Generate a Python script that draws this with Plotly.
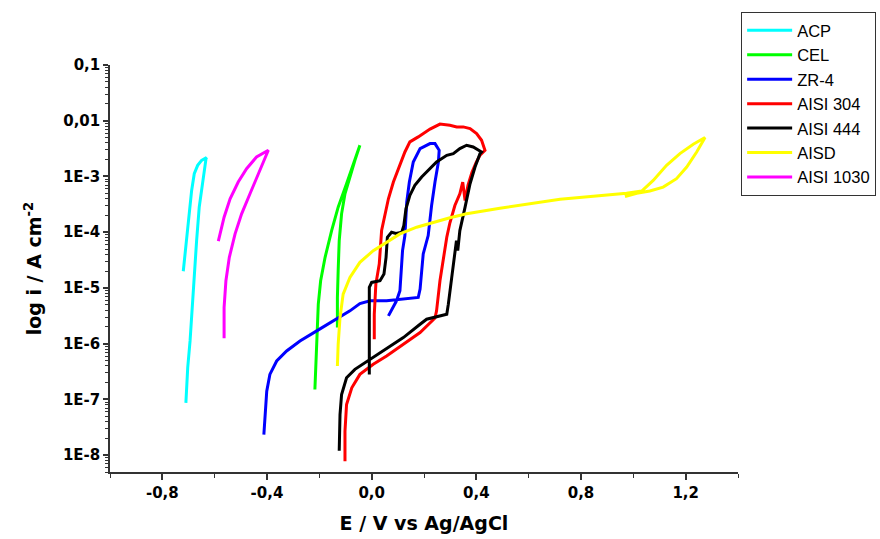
import numpy as np
import plotly.graph_objects as go

# ---------------- data (E in V vs Ag/AgCl, log10 of current density in A cm^-2) ----------------
acp_E = [-0.710, -0.703, -0.694, -0.686, -0.678, -0.669, -0.659, -0.646, -0.633, -0.631,
         -0.650, -0.665, -0.678, -0.688, -0.697, -0.707, -0.715, -0.720]
acp_logi = [-7.06, -6.43, -5.95, -5.35, -4.75, -4.15, -3.55, -3.07, -2.68, -2.66,
            -2.71, -2.80, -2.95, -3.25, -3.67, -4.09, -4.45, -4.70]

cel_E = [-0.217, -0.210, -0.204, -0.195, -0.178, -0.153, -0.128, -0.096, -0.070, -0.045,
         -0.064, -0.083, -0.102, -0.115, -0.124, -0.128, -0.131, -0.131]
cel_logi = [-6.82, -5.89, -5.29, -4.87, -4.45, -3.97, -3.55, -3.13, -2.77, -2.44,
            -2.71, -3.01, -3.31, -3.67, -4.15, -4.69, -5.17, -5.71]

zr4_E = [-0.412, -0.408, -0.401, -0.389, -0.363, -0.325, -0.274, -0.210, -0.147, -0.083,
         -0.045, -0.006, 0.057, 0.121, 0.178, 0.185, 0.191, 0.197, 0.216, 0.229,
         0.242, 0.255, 0.258, 0.242, 0.223, 0.185, 0.159, 0.144, 0.134, 0.127,
         0.118, 0.115, 0.108, 0.095, 0.076, 0.064]
zr4_logi = [-7.63, -7.27, -6.85, -6.55, -6.31, -6.13, -5.95, -5.77, -5.59, -5.41,
            -5.28, -5.23, -5.23, -5.20, -5.17, -5.02, -4.75, -4.39, -4.06, -3.52,
            -3.10, -2.74, -2.53, -2.41, -2.41, -2.50, -2.74, -3.10, -3.46, -4.06,
            -4.33, -4.57, -5.05, -5.23, -5.38, -5.50]

aisi304_E = [-0.102, -0.102, -0.096, -0.076, -0.045, 0.006, 0.057, 0.121, 0.185, 0.242,
             0.248, 0.261, 0.274, 0.287, 0.299, 0.318, 0.337, 0.348, 0.357, 0.368,
             0.383, 0.399, 0.414, 0.433, 0.420, 0.401, 0.376, 0.350, 0.325, 0.299,
             0.261, 0.223, 0.178, 0.146, 0.127, 0.108, 0.083, 0.064, 0.051, 0.038,
             0.029, 0.016, 0.010, 0.010]
aisi304_logi = [-8.11, -7.57, -7.09, -6.79, -6.55, -6.37, -6.22, -6.01, -5.80, -5.54,
                -5.41, -4.87, -4.45, -4.09, -3.83, -3.52, -3.31, -3.10, -3.43, -3.16,
                -2.93, -2.75, -2.62, -2.53, -2.35, -2.23, -2.14, -2.11, -2.11, -2.08,
                -2.06, -2.15, -2.29, -2.38, -2.56, -2.80, -3.10, -3.40, -3.70, -3.97,
                -4.57, -4.93, -5.47, -5.92]

aisi444_E = [-0.124, -0.121, -0.115, -0.096, -0.064, -0.006, 0.057, 0.121, 0.185, 0.210,
             0.287, 0.293, 0.306, 0.318, 0.324, 0.329, 0.337, 0.357, 0.376, 0.395,
             0.414, 0.420, 0.388, 0.363, 0.337, 0.312, 0.287, 0.248, 0.223, 0.191,
             0.165, 0.146, 0.131, 0.123, 0.115, 0.093, 0.076, 0.060, 0.055, 0.047,
             0.032, 0.000, -0.009, -0.009]
aisi444_logi = [-7.92, -7.27, -6.91, -6.61, -6.46, -6.28, -6.10, -5.89, -5.65, -5.56,
                -5.47, -5.29, -4.81, -4.39, -4.15, -4.33, -3.97, -3.55, -3.13, -2.83,
                -2.59, -2.56, -2.47, -2.44, -2.50, -2.59, -2.62, -2.74, -2.86, -3.01,
                -3.16, -3.34, -3.58, -3.88, -4.00, -4.02, -4.00, -4.09, -4.45, -4.75,
                -4.87, -4.90, -4.99, -6.55]

aisd_E = [-0.131, -0.128, -0.121, -0.109, -0.083, -0.045, 0.006, 0.057, 0.108, 0.172,
          0.235, 0.299, 0.363, 0.490, 0.720, 0.847, 0.974, 1.032, 1.076, 1.127,
          1.178, 1.229, 1.274, 1.242, 1.204, 1.165, 1.114, 1.063, 1.013, 0.968]
aisd_logi = [-6.40, -6.01, -5.53, -5.11, -4.81, -4.54, -4.33, -4.18, -4.03, -3.91,
             -3.82, -3.74, -3.67, -3.57, -3.41, -3.36, -3.30, -3.26, -3.07, -2.80,
             -2.59, -2.42, -2.30, -2.56, -2.83, -3.04, -3.19, -3.26, -3.30, -3.36]

aisi1030_E = [-0.564, -0.564, -0.557, -0.544, -0.522, -0.497, -0.465, -0.433, -0.408, -0.395,
              -0.440, -0.478, -0.510, -0.541, -0.564, -0.577, -0.586]
aisi1030_logi = [-5.90, -5.35, -4.87, -4.45, -4.03, -3.67, -3.31, -2.95, -2.65, -2.53,
                 -2.65, -2.86, -3.10, -3.40, -3.73, -3.97, -4.16]

series_names = ["ACP", "CEL", "ZR-4", "AISI 304", "AISI 444", "AISD", "AISI 1030"]
series_E = [acp_E, cel_E, zr4_E, aisi304_E, aisi444_E, aisd_E, aisi1030_E]
series_logi = [acp_logi, cel_logi, zr4_logi, aisi304_logi, aisi444_logi, aisd_logi, aisi1030_logi]
series_colors = ["#00FFFF", "#00FF00", "#0000FF", "#FF0000", "#000000", "#FFFF00", "#FF00FF"]

x_tickvals = [-0.8, -0.4, 0.0, 0.4, 0.8, 1.2]
x_ticktext = ["-0,8", "-0,4", "0,0", "0,4", "0,8", "1,2"]
y_tickvals = [1e-1, 1e-2, 1e-3, 1e-4, 1e-5, 1e-6, 1e-7, 1e-8]
y_ticktext = ["0,1", "0,01", "1E-3", "1E-4", "1E-5", "1E-6", "1E-7", "1E-8"]

# ---------------- figure ----------------
fig = go.Figure()
for name, E, li, col in zip(series_names, series_E, series_logi, series_colors):
    fig.add_trace(go.Scatter(
        x=E, y=10 ** np.array(li), mode="lines", name=name,
        line=dict(color=col, width=3),
    ))

tickfont = dict(family="DejaVu Sans", size=15, color="black", weight="bold")
titlefont = dict(family="DejaVu Sans", size=19, color="black", weight="bold")

fig.update_layout(
    width=880, height=539,
    margin=dict(l=110, r=142, t=65, b=67, autoexpand=False),
    plot_bgcolor="white", paper_bgcolor="white",
    showlegend=True,
    legend=dict(
        x=1.005, y=1.13, xanchor="left", yanchor="top",
        bordercolor="#333333", borderwidth=1, bgcolor="white",
        font=dict(family="Arial, Liberation Sans", size=16.5, color="black"),
        tracegroupgap=0, itemwidth=45,
    ),
    xaxis=dict(
        range=[-1.0, 1.4], showgrid=False, zeroline=False,
        showline=True, linecolor="#333333", linewidth=1.5,
        tickmode="array", tickvals=x_tickvals, ticktext=x_ticktext,
        ticks="outside", ticklen=6, tickwidth=1.5, tickcolor="#333333",
        tickfont=tickfont,
        minor=dict(dtick=0.2, tick0=0, ticks="outside", ticklen=4, tickwidth=1.2, tickcolor="#333333", showgrid=False),
        title=dict(text="E / V vs Ag/AgCl", font=titlefont, standoff=16),
    ),
    yaxis=dict(
        type="log", range=[np.log10(5e-9), -1], showgrid=False, zeroline=False,
        showline=True, linecolor="#333333", linewidth=1.5,
        tickmode="array", tickvals=y_tickvals, ticktext=y_ticktext,
        ticks="outside", ticklen=5, tickwidth=1.5, tickcolor="#333333",
        tickfont=tickfont,
        minor=dict(dtick="D1", ticks="outside", ticklen=3, tickwidth=1, tickcolor="#333333", showgrid=False),
        title=dict(text="log i / A cm<sup>-2</sup>", font=titlefont, standoff=16),
    ),
)

fig.write_html("out.html", config={"displayModeBar": False},
               post_script="document.body.style.margin='0';")
